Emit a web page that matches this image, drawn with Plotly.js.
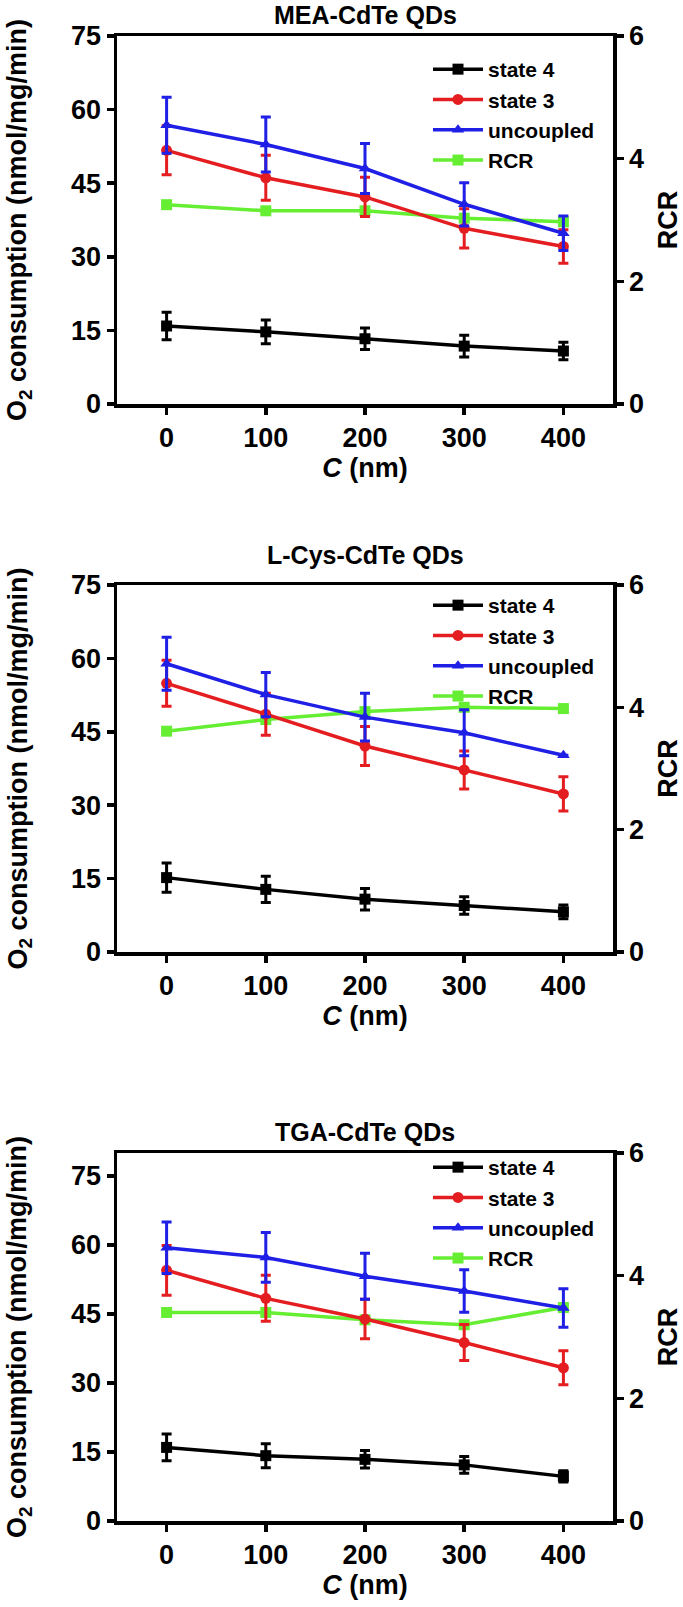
<!DOCTYPE html>
<html>
<head>
<meta charset="utf-8">
<script src="https://cdn.plot.ly/plotly-3.0.1.min.js"></script>
<style>html,body{margin:0;padding:0;background:#fff}#chart{width:683px;height:1607px}</style>
</head>
<body>
<div id="chart"></div>
<script>
// ---- data ----
const concentrations = [0, 100, 200, 300, 400];
const panelTitles = ["MEA-CdTe QDs", "L-Cys-CdTe QDs", "TGA-CdTe QDs"];
const seriesNames = ["state 4", "state 3", "uncoupled", "RCR"];

const meaState4 = [15.9, 14.7, 13.3, 11.8, 10.8];
const meaState4Err = [2.8, 2.4, 2.2, 2.2, 1.8];
const meaState3 = [51.7, 46.1, 42.2, 35.8, 32.1];
const meaState3Err = [5.0, 4.6, 4.0, 4.0, 3.4];
const meaUncoupled = [56.8, 52.9, 48.0, 40.7, 34.8];
const meaUncoupledErr = [5.7, 5.6, 5.1, 4.4, 3.5];
const meaRCR = [3.25, 3.15, 3.15, 3.03, 2.97];

const cysState4 = [15.2, 12.8, 10.8, 9.5, 8.2];
const cysState4Err = [3.0, 2.7, 2.2, 1.8, 1.4];
const cysState3 = [54.9, 48.6, 42.1, 37.2, 32.3];
const cysState3Err = [4.7, 4.3, 4.0, 3.9, 3.5];
const cysUncoupled = [58.9, 52.6, 48.0, 44.8, 40.2];
const cysUncoupledErr = [5.4, 4.5, 4.9, 4.7, 0];
const cysRCR = [3.61, 3.80, 3.93, 4.00, 3.98];

const tgaState4 = [16.0, 14.2, 13.4, 12.2, 9.7];
const tgaState4Err = [2.9, 2.6, 1.9, 1.8, 1.2];
const tgaState3 = [54.5, 48.4, 43.9, 38.8, 33.3];
const tgaState3Err = [5.4, 5.0, 4.3, 3.9, 3.7];
const tgaUncoupled = [59.4, 57.3, 53.2, 50.0, 46.3];
const tgaUncoupledErr = [5.6, 5.4, 5.0, 4.6, 4.2];
const tgaRCR = [3.40, 3.40, 3.28, 3.20, 3.48];

const o2Ticks = [0, 15, 30, 45, 60, 75];
const rcrTicks = [0, 2, 4, 6];
const xTicks = [0, 100, 200, 300, 400];
const yTitleText = "O<sub>2</sub> consumption (nmol/mg/min)";
const y2TitleText = "RCR";
const xTitleText = "<i>C</i> (nm)";

// ---- style ----
const FONT = "Liberation Sans, Arial, sans-serif";
const colors = ["#000000", "#e41d21", "#1f1fe6", "#66ee33"];
const symbols = ["square", "circle", "triangle-up", "square"];

const panels = [
  {s4: meaState4, s4e: meaState4Err, s3: meaState3, s3e: meaState3Err, un: meaUncoupled, une: meaUncoupledErr, rcr: meaRCR, o2max: 75},
  {s4: cysState4, s4e: cysState4Err, s3: cysState3, s3e: cysState3Err, un: cysUncoupled, une: cysUncoupledErr, rcr: cysRCR, o2max: 75},
  {s4: tgaState4, s4e: tgaState4Err, s3: tgaState3, s3e: tgaState3Err, un: tgaUncoupled, une: tgaUncoupledErr, rcr: tgaRCR, o2max: 80}
];

const W = 683, H = 1607;
const plotLeft = 117, plotRight = 613;
const panelTop = [36, 585, 1153];
const panelBottom = [404, 952, 1521];
const legendTop = [49, 585, 1147];
const titleY = [15, 555, 1132];

const data = [];
const layout = {
  width: W, height: H,
  margin: {l: 0, r: 0, t: 0, b: 0},
  paper_bgcolor: "#fff", plot_bgcolor: "rgba(0,0,0,0)",
  showlegend: true,
  font: {family: FONT, color: "#000", weight: "bold"},
  annotations: []
};

panels.forEach((p, i) => {
  const xa = i === 0 ? "x" : "x" + (i + 1);
  const yR = "y" + (i === 0 ? "" : (2 * i + 1));
  const yL = "y" + (2 * i + 2);
  const legendId = i === 0 ? "legend" : "legend" + (i + 1);
  const vals = [[p.s4, p.s4e], [p.s3, p.s3e], [p.un, p.une]];
  vals.forEach((v, k) => {
    data.push({
      type: "scatter", mode: "lines+markers", name: seriesNames[k],
      x: concentrations, y: v[0], xaxis: xa, yaxis: yL, legend: legendId,
      line: {color: colors[k], width: 3.5},
      marker: {color: colors[k], symbol: symbols[k], size: 11},
      error_y: {type: "data", array: v[1], visible: true, color: colors[k], thickness: 3, width: 5}
    });
  });
  data.push({
    type: "scatter", mode: "lines+markers", name: seriesNames[3],
    x: concentrations, y: p.rcr, xaxis: xa, yaxis: yR, legend: legendId,
    line: {color: colors[3], width: 3.5},
    marker: {color: colors[3], symbol: symbols[3], size: 11}
  });

  const dom = [(H - panelBottom[i]) / H, (H - panelTop[i]) / H];
  const xKey = i === 0 ? "xaxis" : "xaxis" + (i + 1);
  const yRKey = i === 0 ? "yaxis" : "yaxis" + (2 * i + 1);
  const yLKey = "yaxis" + (2 * i + 2);
  layout[xKey] = {
    domain: [plotLeft / W, plotRight / W], anchor: yR, range: [-50, 450],
    tickvals: xTicks, ticks: "outside", ticklen: 7, tickwidth: 3.5, tickcolor: "#000",
    showline: true, linewidth: 3.5, linecolor: "#000", mirror: true,
    showgrid: false, zeroline: false,
    tickfont: {family: FONT, size: 27, weight: "bold"},
    title: {text: xTitleText, font: {family: FONT, size: 27, weight: "bold"}, standoff: 4}
  };
  layout[yRKey] = {
    domain: dom, anchor: xa, side: "right", range: [0, 6],
    tickvals: rcrTicks, ticks: "outside", ticklen: 7, tickwidth: 3.5, tickcolor: "#000",
    showline: true, linewidth: 3.5, linecolor: "#000",
    showgrid: false, zeroline: false,
    tickfont: {family: FONT, size: 27, weight: "bold"},
    title: {text: y2TitleText, font: {family: FONT, size: 27, weight: "bold"}}
  };
  layout[yLKey] = {
    overlaying: yR, anchor: xa, side: "left", range: [0, p.o2max],
    tickvals: o2Ticks, ticks: "outside", ticklen: 7, tickwidth: 3.5, tickcolor: "#000",
    showline: true, linewidth: 3.5, linecolor: "#000",
    showgrid: false, zeroline: false,
    tickfont: {family: FONT, size: 27, weight: "bold"}
  };
  layout[legendId] = {
    x: 428 / W, xanchor: "left", y: (H - legendTop[i]) / H, yanchor: "top",
    bgcolor: "rgba(0,0,0,0)", borderwidth: 0, tracegroupgap: 0,
    itemwidth: 50,
    font: {family: FONT, size: 21, weight: "bold", color: "#000"}
  };
  layout.annotations.push({
    text: panelTitles[i], xref: "paper", yref: "paper",
    x: ((plotLeft + plotRight) / 2) / W, y: (H - titleY[i]) / H,
    xanchor: "center", yanchor: "middle", showarrow: false,
    font: {family: FONT, size: 25, weight: "bold", color: "#000"}
  });
  layout.annotations.push({
    text: yTitleText, xref: "paper", yref: "paper", textangle: -90,
    x: 19 / W, y: (H - (panelTop[i] + panelBottom[i]) / 2) / H,
    xanchor: "center", yanchor: "middle", showarrow: false,
    font: {family: FONT, size: 27, weight: "bold", color: "#000"}
  });
});

Plotly.newPlot("chart", data, layout, {displayModeBar: false, staticPlot: true});
</script>
</body>
</html>
